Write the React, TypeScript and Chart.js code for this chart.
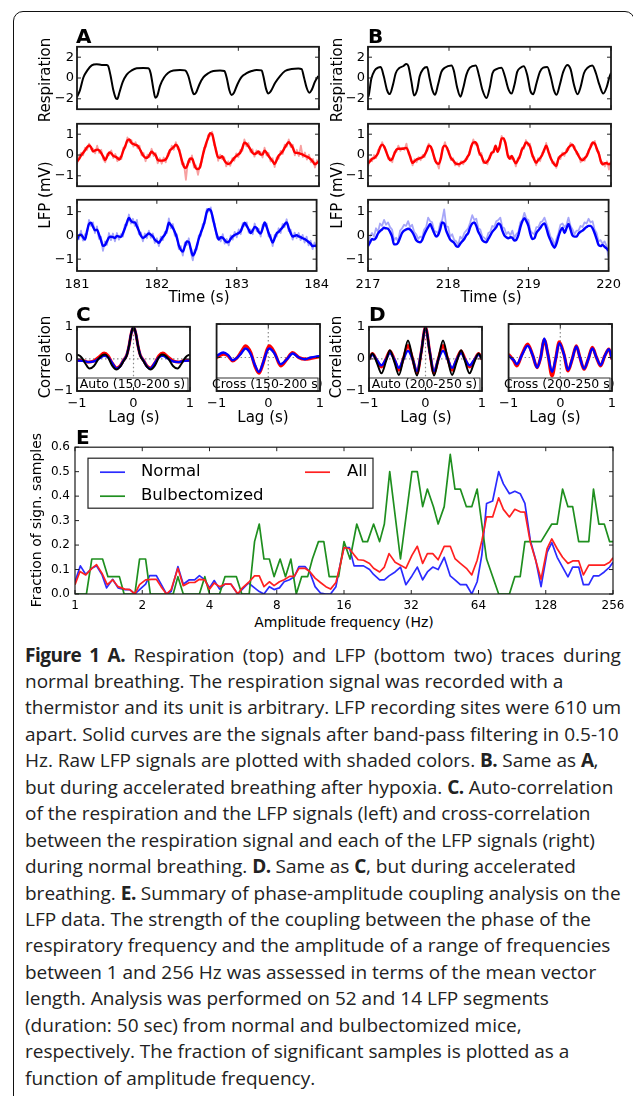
import React, { useEffect, useRef } from 'react';
import { Chart, registerables } from 'chart.js';

Chart.register(...registerables);

const FAMILY = '"DejaVu Sans", sans-serif';
Chart.defaults.font.family = FAMILY;

// ---------------- data ----------------
const timeTicksA = [181, 182, 183, 184];
const timeTicksB = [217, 218, 219, 220];
const respTicks = [-2, 0, 2];
const lfpTicks = [-1, 0, 1];
const lagTicks = [-1, 0, 1];
const eXTicks = [0, 1, 2, 3, 4, 5, 6, 7, 8]; // log2 of frequency
const eXTickLabels = ['1', '2', '4', '8', '16', '32', '64', '128', '256'];
const eYTicks = [0, 0.1, 0.2, 0.3, 0.4, 0.5, 0.6];
const sampleStep = 0.025; // s between LFP samples
const startA = 181;
const startB = 217;

// Panel A respiration [time s, value]
const respA: [number, number][] = [
  [181.0, -1.83], [181.037, -1.16], [181.079, 0.05], [181.128, 0.73], [181.182, 1.21], [181.244, 1.32], [181.306, 1.26], [181.368, 1.26],
  [181.388, 1.13], [181.417, 0.19], [181.45, -1.16], [181.483, -1.96], [181.5, -2.02], [181.525, -1.42], [181.566, -0.4], [181.616, 0.32],
  [181.678, 0.73], [181.74, 0.94], [181.822, 0.97], [181.884, 0.94], [181.913, 0.46], [181.946, -1.02], [181.971, -1.91], [181.996, -1.69],
  [182.029, -0.75], [182.079, 0.05], [182.132, 0.51], [182.194, 0.73], [182.277, 0.78], [182.339, 0.73], [182.38, 0.19], [182.421, -1.02],
  [182.45, -1.56], [182.475, -1.42], [182.517, -0.62], [182.566, 0.05], [182.628, 0.46], [182.69, 0.67], [182.773, 0.73], [182.826, 0.67],
  [182.855, 0.05], [182.888, -1.16], [182.917, -1.64], [182.946, -1.42], [182.988, -0.62], [183.041, 0.11], [183.103, 0.46], [183.165, 0.67],
  [183.227, 0.78], [183.289, 0.73], [183.31, 0.19], [183.343, -1.02], [183.372, -1.48], [183.401, -1.29], [183.455, -0.48], [183.517, 0.19],
  [183.579, 0.67], [183.661, 0.86], [183.744, 0.91], [183.785, 0.86], [183.814, 0.05], [183.847, -0.94], [183.88, -1.42], [183.909, -1.16],
  [183.95, -0.35], [183.992, 0.19],
];

// Panel A LFP site 1 (red), filtered and raw, mV
const lfp1A = [
  -0.31, -0.2, -0.03, 0.1, 0.23, 0.37, 0.46, 0.37, 0.17, 0.22,
  0.26, 0.22, 0.09, -0.08, -0.24, -0.06, 0.12, 0.08, -0.04, -0.08,
  -0.14, -0.22, -0.06, 0.22, 0.45, 0.7, 0.75, 0.58, 0.53, 0.49,
  0.45, 0.3, 0.12, -0.05, -0.13, -0.12, 0.02, 0.16, 0.08, -0.02,
  -0.23, -0.27, -0.27, -0.26, -0.21, -0.05, 0.21, 0.3, 0.39, 0.49,
  0.4, 0.1, -0.26, -0.56, -0.63, -0.42, -0.18, -0.17, -0.41, -0.64,
  -0.67, -0.59, -0.17, 0.22, 0.55, 0.81, 1.05, 1.0, 0.62, 0.18,
  -0.11, -0.13, -0.06, -0.25, -0.38, -0.43, -0.39, -0.27, -0.14, -0.05,
  0.03, 0.12, 0.34, 0.59, 0.55, 0.42, 0.27, 0.11, 0.05, 0.09,
  0.17, 0.02, 0.03, 0.21, 0.11, -0.05, -0.18, -0.3, -0.43, -0.25,
  -0.03, 0.06, 0.18, 0.35, 0.51, 0.62, 0.5, 0.35, 0.12, 0.1,
  0.09, 0.05, 0.01, -0.04, -0.08, -0.13, -0.21, -0.33, -0.45, -0.38,
  -0.3,
];
const lfp1ARaw = [
  -0.45, -0.05, 0.1, -0.02, 0.35, 0.25, 0.55, 0.28, 0.3, 0.08,
  0.45, 0.1, 0.25, -0.2, -0.35, 0.05, 0.0, 0.22, -0.15, 0.05,
  -0.3, -0.1, -0.2, 0.35, 0.35, 0.85, 0.62, 0.72, 0.4, 0.62,
  0.32, 0.45, -0.02, 0.1, -0.3, 0.02, -0.1, 0.3, -0.05, 0.1,
  -0.4, -0.15, -0.42, -0.12, -0.35, 0.08, 0.1, 0.45, 0.25, 0.62,
  0.28, 0.25, -0.45, -0.4, -1.2, -0.3, -0.35, -0.02, -0.6, -0.5,
  -0.95, -0.45, -0.3, 0.35, 0.4, 0.95, 0.92, 1.12, 0.48, 0.3,
  -0.28, 0.02, -0.2, -0.1, -0.55, -0.3, -0.52, -0.15, -0.28, 0.08,
  -0.1, 0.25, 0.2, 0.75, 0.42, 0.58, 0.15, 0.28, -0.08, 0.22,
  0.05, 0.15, -0.12, 0.35, -0.02, 0.1, -0.32, -0.15, -0.58, -0.12,
  -0.18, 0.2, 0.05, 0.5, 0.4, 0.75, 0.38, 0.5, -0.02, 0.25,
  -0.05, 0.45, -0.1, 0.12, -0.22, 0.02, -0.35, -0.18, -0.6, -0.25,
  -0.45,
];
// Panel A LFP site 2 (blue)
const lfp2A = [
  -0.19, 0.0, 0.03, -0.08, -0.18, 0.17, 0.48, 0.53, 0.37, 0.21,
  0.24, 0.04, -0.2, -0.44, -0.41, -0.25, -0.09, -0.06, -0.07, -0.11,
  -0.02, -0.05, -0.07, 0.09, 0.3, 0.55, 0.74, 0.62, 0.55, 0.55,
  0.38, 0.19, -0.01, -0.11, -0.06, 0.02, 0.08, 0.03, -0.05, -0.18,
  -0.25, -0.31, -0.2, -0.07, 0.03, 0.23, 0.53, 0.44, 0.32, 0.14,
  -0.09, -0.42, -0.61, -0.68, -0.46, -0.25, -0.28, -0.57, -0.85, -0.72,
  -0.45, -0.14, 0.11, 0.33, 0.62, 0.98, 1.1, 1.05, 0.75, 0.37,
  0.04, -0.18, -0.08, -0.1, -0.2, -0.29, -0.27, -0.14, -0.04, 0.02,
  0.06, 0.1, 0.18, 0.38, 0.53, 0.4, 0.25, 0.1, 0.21, 0.36,
  0.31, 0.14, 0.08, 0.3, 0.55, 0.35, 0.1, -0.12, -0.3, -0.12,
  0.09, 0.15, 0.25, 0.34, 0.47, 0.55, 0.32, 0.1, -0.05, -0.02,
  0.01, -0.04, -0.07, -0.12, -0.15, -0.21, -0.28, -0.35, -0.45, -0.44,
  -0.43,
];
const lfp2ARaw = [
  -0.05, -0.15, 0.2, -0.22, 0.05, 0.05, 0.65, 0.4, 0.55, 0.1,
  0.38, -0.15, -0.05, -0.65, -0.25, -0.4, 0.1, -0.2, 0.08, -0.25,
  0.1, -0.18, 0.05, -0.05, 0.45, 0.42, 0.88, 0.5, 0.7, 0.4,
  0.65, 0.05, 0.12, -0.25, 0.08, -0.12, 0.2, -0.1, 0.08, -0.32,
  -0.12, -0.45, -0.05, -0.2, 0.15, 0.1, 0.72, 0.3, 0.48, -0.02,
  0.05, -0.58, -0.45, -0.85, -0.3, -0.4, -0.12, -0.7, -1.05, -0.6,
  -0.6, 0.0, -0.02, 0.48, 0.5, 1.12, 1.0, 1.18, 0.6, 0.5,
  -0.1, -0.05, -0.25, 0.05, -0.35, -0.15, -0.42, 0.0, -0.18, 0.15,
  -0.08, 0.25, 0.05, 0.52, 0.4, 0.55, 0.12, 0.25, 0.05, 0.5,
  0.18, 0.28, -0.05, 0.45, 0.4, 0.5, -0.05, 0.02, -0.45, 0.02,
  -0.05, 0.3, 0.1, 0.48, 0.35, 0.68, 0.18, 0.25, -0.18, 0.12,
  -0.12, 0.1, -0.2, 0.02, -0.3, -0.05, -0.42, -0.22, -0.58, -0.3,
  -0.55,
];

// Panel B respiration
const respB: [number, number][] = [
  [217.0, -1.8], [217.008, -1.7], [217.041, -0.08], [217.082, 0.73], [217.124, 0.99], [217.157, 1.05], [217.194, 0.19], [217.235, -1.16],
  [217.268, -1.55], [217.309, -0.62], [217.342, 0.46], [217.383, 0.94], [217.433, 1.13], [217.474, 1.34], [217.499, 1.13], [217.536, -0.35],
  [217.569, -1.69], [217.606, -1.16], [217.639, 0.19], [217.68, 0.86], [217.729, 1.05], [217.762, -0.08], [217.795, -1.16], [217.828, -1.6],
  [217.865, -0.62], [217.906, 0.59], [217.948, 0.99], [218.03, 1.21], [218.059, 0.73], [218.1, -0.89], [218.141, -1.8], [218.174, -1.02],
  [218.215, 0.32], [218.257, 0.99], [218.331, 1.21], [218.372, 0.19], [218.413, -1.16], [218.463, -1.93], [218.504, -0.89], [218.537, 0.46],
  [218.586, 0.86], [218.648, 0.99], [218.689, 0.19], [218.731, -1.02], [218.772, -1.5], [218.809, -0.62], [218.842, 0.59], [218.883, 0.99],
  [218.924, 1.13], [218.965, 0.32], [219.007, -1.29], [219.04, -1.56], [219.081, -0.48], [219.122, 0.59], [219.163, 0.99], [219.213, 1.05],
  [219.254, 0.19], [219.295, -1.16], [219.328, -1.6], [219.369, -0.62], [219.41, 0.59], [219.46, 1.26], [219.501, 0.86], [219.542, -0.62],
  [219.587, -1.56], [219.624, -0.89], [219.666, 0.46], [219.711, 0.99], [219.769, 1.21], [219.814, 0.46], [219.855, -0.62], [219.905, -1.5],
  [219.946, -0.89], [219.979, 0.05], [220.0, 0.5],
];
const lfp1B = [
  -0.4, -0.3, -0.18, -0.15, -0.05, 0.1, 0.38, 0.5, 0.4, 0.15,
  -0.1, -0.25, -0.18, 0.05, 0.25, 0.3, 0.3, 0.3, 0.32, 0.34,
  0.15, -0.15, -0.38, -0.3, -0.22, -0.18, -0.14, -0.1, 0.02, 0.2,
  0.45, 0.4, 0.12, -0.2, -0.4, -0.42, -0.15, 0.35, 0.45, 0.35,
  0.08, -0.15, -0.25, -0.38, -0.44, -0.44, -0.38, -0.33, -0.28, -0.1,
  0.05, 0.42, 0.6, 0.62, 0.45, 0.1, -0.05, -0.3, -0.38, -0.3,
  -0.15, 0.1, 0.15, 0.45, 0.15, 0.4, 0.8, 0.8, 0.5, 0.0,
  -0.18, -0.05, -0.25, -0.4, -0.25, -0.05, 0.25, 0.4, 0.6, 0.55,
  0.4, 0.05, -0.2, -0.38, -0.25, -0.15, 0.0, 0.25, 0.45, 0.2,
  -0.1, -0.3, -0.45, -0.52, -0.2, -0.05, 0.02, 0.08, 0.15, 0.35,
  0.45, 0.5, 0.3, 0.15, -0.05, -0.2, -0.25, -0.15, -0.05, 0.2,
  0.4, 0.6, 0.55, 0.3, 0.05, -0.3, -0.45, -0.4, -0.4, -0.45,
  -0.38,
];
const lfp1BRaw = [
  -0.55, -0.2, -0.3, 0.0, -0.15, 0.25, 0.3, 0.62, 0.35, 0.25,
  -0.2, -0.15, -0.35, 0.15, 0.15, 0.45, 0.2, 0.35, 0.25, 0.55,
  0.05, -0.05, -0.5, -0.2, -0.35, -0.1, -0.25, 0.0, -0.1, 0.3,
  0.55, 0.35, 0.25, -0.3, -0.35, -0.65, -0.05, 0.3, 0.62, 0.25,
  0.2, -0.25, -0.15, -0.5, -0.35, -0.55, -0.3, -0.45, -0.2, -0.2,
  0.15, 0.35, 0.75, 0.5, 0.55, 0.0, 0.1, -0.4, -0.25, -0.45,
  -0.05, 0.0, 0.25, 0.35, 0.3, 0.3, 0.92, 0.7, 0.62, -0.1,
  -0.05, -0.2, -0.15, -0.55, -0.15, -0.15, 0.35, 0.3, 0.72, 0.45,
  0.55, -0.08, -0.1, -0.5, -0.15, -0.3, 0.1, 0.15, 0.58, 0.1,
  0.02, -0.4, -0.35, -0.62, -0.1, -0.2, 0.12, -0.05, 0.28, 0.25,
  0.58, 0.4, 0.42, 0.05, 0.05, -0.35, -0.15, -0.28, 0.05, 0.1,
  0.52, 0.5, 0.68, 0.2, 0.15, -0.4, -0.35, -0.55, -0.3, -0.7,
  -0.3,
];
const lfp2B = [
  -0.45, -0.3, -0.15, -0.18, -0.1, 0.08, 0.18, 0.25, 0.32, 0.3,
  0.28, 0.15, -0.05, -0.38, -0.38, -0.3, -0.1, 0.1, 0.2, 0.25,
  0.28, 0.25, 0.15, 0.0, -0.2, -0.27, -0.29, -0.2, 0.02, 0.2,
  0.35, 0.48, 0.3, 0.1, -0.05, 0.02, 0.25, 0.55, 0.5, 0.2,
  0.0, -0.18, -0.25, -0.32, -0.45, -0.48, -0.35, -0.25, -0.15, 0.0,
  0.1, 0.35, 0.5, 0.55, 0.4, 0.15, 0.0, -0.2, -0.27, -0.29,
  -0.15, 0.0, 0.15, 0.25, 0.35, 0.5, 0.45, 0.2, 0.0, -0.08,
  -0.12, -0.08, -0.1, -0.22, -0.18, 0.01, 0.35, 0.6, 0.72, 0.6,
  0.4, 0.05, -0.15, -0.12, 0.1, 0.22, 0.32, 0.45, 0.5, 0.3,
  0.0, -0.2, -0.4, -0.52, -0.35, -0.05, 0.2, 0.32, 0.1, 0.3,
  0.48, 0.25, 0.0, -0.05, -0.05, 0.08, 0.15, 0.2, 0.28, 0.35,
  0.4, 0.4, 0.3, 0.1, -0.15, -0.4, -0.45, -0.4, -0.48, -0.55,
  -0.65,
];
const lfp2BRaw = [
  -0.3, -0.05, 0.1, -0.05, 0.3, 0.15, 0.5, 0.4, 0.65, 0.45,
  0.55, 0.35, 0.25, -0.2, -0.1, -0.25, 0.2, 0.3, 0.45, 0.4,
  0.6, 0.35, 0.45, 0.15, 0.05, -0.15, -0.05, -0.1, 0.25, 0.35,
  0.75, 0.6, 0.55, 0.2, 0.15, 0.1, 0.5, 0.65, 1.1, 0.4,
  0.35, -0.05, 0.05, -0.2, -0.25, -0.4, -0.05, -0.15, 0.1, 0.2,
  0.3, 0.55, 0.85, 0.65, 0.7, 0.3, 0.25, -0.05, -0.1, -0.2,
  0.1, 0.15, 0.4, 0.35, 0.6, 0.65, 0.75, 0.35, 0.3, 0.05,
  0.15, 0.0, 0.2, -0.1, 0.05, 0.15, 0.55, 0.65, 0.95, 0.7,
  0.65, 0.2, 0.1, 0.05, 0.35, 0.35, 0.55, 0.6, 0.75, 0.5,
  0.25, -0.05, -0.15, -0.4, -0.15, 0.1, 0.45, 0.5, 0.35, 0.45,
  0.75, 0.4, 0.25, 0.05, 0.2, 0.2, 0.4, 0.35, 0.55, 0.5,
  0.7, 0.55, 0.6, 0.25, 0.1, -0.25, -0.2, -0.35, -0.25, -0.45,
  -0.95,
];

// Panel C correlations [lag s, r]
const cAutoResp: [number, number][] = [
  [-1, 0.13], [-0.95, 0.1], [-0.9, 0.0], [-0.85, -0.15], [-0.78, -0.3], [-0.7, -0.22], [-0.62, 0.0], [-0.55, 0.12], [-0.5, 0.14],
  [-0.45, 0.05], [-0.38, -0.2], [-0.3, -0.33], [-0.24, -0.25], [-0.18, -0.08], [-0.12, 0.1], [-0.08, 0.4], [-0.04, 0.8], [0, 1],
  [0.04, 0.8], [0.08, 0.4], [0.12, 0.1], [0.18, -0.08], [0.24, -0.25], [0.3, -0.33], [0.38, -0.2], [0.45, 0.05], [0.5, 0.14],
  [0.55, 0.12], [0.62, 0.0], [0.7, -0.22], [0.78, -0.3], [0.85, -0.15], [0.9, 0.0], [0.95, 0.1], [1, 0.13],
];
const cAutoLfp1: [number, number][] = [
  [-1, -0.05], [-0.9, -0.05], [-0.8, -0.1], [-0.7, -0.06], [-0.6, 0.08], [-0.52, 0.18], [-0.45, 0.1], [-0.38, -0.12], [-0.3, -0.28],
  [-0.24, -0.22], [-0.18, -0.05], [-0.12, 0.12], [-0.08, 0.4], [-0.04, 0.8], [0, 1], [0.04, 0.8], [0.08, 0.4], [0.12, 0.12],
  [0.18, -0.05], [0.24, -0.22], [0.3, -0.28], [0.38, -0.12], [0.45, 0.1], [0.52, 0.18], [0.6, 0.08], [0.7, -0.06], [0.8, -0.1],
  [0.9, -0.05], [1, -0.05],
];
const cAutoLfp2: [number, number][] = [
  [-1, -0.05], [-0.9, -0.06], [-0.8, -0.1], [-0.7, -0.08], [-0.6, 0.02], [-0.52, 0.1], [-0.45, 0.05], [-0.38, -0.12], [-0.3, -0.3],
  [-0.24, -0.24], [-0.18, -0.06], [-0.12, 0.12], [-0.08, 0.4], [-0.04, 0.8], [0, 1], [0.04, 0.8], [0.08, 0.4], [0.12, 0.12],
  [0.18, -0.06], [0.24, -0.24], [0.3, -0.3], [0.38, -0.12], [0.45, 0.05], [0.52, 0.1], [0.6, 0.02], [0.7, -0.08], [0.8, -0.1],
  [0.9, -0.06], [1, -0.05],
];
const cCrossLfp1: [number, number][] = [
  [-1, 0.0], [-0.87, 0.1], [-0.78, 0.05], [-0.69, -0.1], [-0.61, -0.02], [-0.52, 0.18], [-0.44, 0.35], [-0.34, 0.15], [-0.26, -0.25],
  [-0.18, -0.47], [-0.11, -0.22], [-0.02, 0.25], [0.02, 0.35], [0.12, 0.15], [0.24, -0.25], [0.36, -0.05], [0.47, 0.15], [0.59, 0.0],
  [0.71, -0.05], [0.82, -0.03], [1, 0.03],
];
const cCrossLfp2: [number, number][] = [
  [-1, 0.05], [-0.87, 0.15], [-0.78, 0.08], [-0.69, -0.08], [-0.61, -0.02], [-0.52, 0.13], [-0.44, 0.27], [-0.34, 0.1], [-0.26, -0.22],
  [-0.18, -0.43], [-0.11, -0.2], [-0.02, 0.2], [0.02, 0.27], [0.12, 0.12], [0.24, -0.2], [0.36, -0.05], [0.47, 0.12], [0.59, 0.0],
  [0.71, -0.05], [0.82, 0.0], [1, 0.05],
];

// Panel D correlations
const dAutoResp: [number, number][] = [
  [-1, -0.02], [-0.94, 0.17], [-0.86, -0.12], [-0.78, -0.45], [-0.7, -0.08], [-0.63, 0.27], [-0.55, -0.1], [-0.47, -0.5], [-0.39, 0.02],
  [-0.31, 0.57], [-0.23, 0.02], [-0.15, -0.52], [-0.075, 0.2], [0, 1], [0.075, 0.2], [0.15, -0.52], [0.23, 0.02], [0.31, 0.57],
  [0.39, 0.02], [0.47, -0.5], [0.55, -0.1], [0.63, 0.27], [0.7, -0.08], [0.78, -0.45], [0.86, -0.12], [0.94, 0.17], [1, -0.02],
];
const dAutoLfp1: [number, number][] = [
  [-1, -0.02], [-0.94, 0.17], [-0.86, -0.05], [-0.78, -0.25], [-0.7, 0.0], [-0.63, 0.25], [-0.55, -0.02], [-0.47, -0.35], [-0.39, 0.02],
  [-0.31, 0.42], [-0.23, 0.02], [-0.15, -0.45], [-0.075, 0.22], [0, 1], [0.075, 0.22], [0.15, -0.45], [0.23, 0.02], [0.31, 0.42],
  [0.39, 0.02], [0.47, -0.35], [0.55, -0.02], [0.63, 0.25], [0.7, 0.0], [0.78, -0.25], [0.86, -0.05], [0.94, 0.17], [1, -0.02],
];
const dAutoLfp2: [number, number][] = [
  [-1, 0.0], [-0.94, 0.13], [-0.86, -0.04], [-0.78, -0.2], [-0.7, -0.02], [-0.63, 0.18], [-0.55, -0.02], [-0.47, -0.28], [-0.39, 0.0],
  [-0.31, 0.25], [-0.23, 0.0], [-0.15, -0.38], [-0.075, 0.22], [0, 1], [0.075, 0.22], [0.15, -0.38], [0.23, 0.0], [0.31, 0.25],
  [0.39, 0.0], [0.47, -0.28], [0.55, -0.02], [0.63, 0.18], [0.7, -0.02], [0.78, -0.2], [0.86, -0.04], [0.94, 0.13], [1, 0.0],
];
const dCrossLfp1: [number, number][] = [
  [-1, 0.1], [-0.9, -0.1], [-0.84, -0.25], [-0.74, 0.1], [-0.63, 0.4], [-0.53, 0.05], [-0.45, -0.3], [-0.38, 0.0], [-0.31, 0.53],
  [-0.24, 0.1], [-0.16, -0.55], [-0.09, -0.05], [-0.02, 0.47], [0.07, 0.1], [0.15, -0.4], [0.23, -0.05], [0.31, 0.35], [0.38, 0.0],
  [0.46, -0.35], [0.54, -0.05], [0.62, 0.3], [0.7, 0.0], [0.78, -0.25], [0.86, 0.05], [0.94, 0.25], [1, -0.05],
];
const dCrossLfp2: [number, number][] = [
  [-1, 0.05], [-0.9, -0.08], [-0.84, -0.2], [-0.74, 0.08], [-0.63, 0.35], [-0.53, 0.05], [-0.45, -0.3], [-0.38, 0.0], [-0.31, 0.57],
  [-0.24, 0.1], [-0.16, -0.43], [-0.09, -0.05], [-0.02, 0.43], [0.07, 0.1], [0.15, -0.37], [0.23, -0.05], [0.31, 0.33], [0.38, 0.0],
  [0.46, -0.33], [0.54, -0.05], [0.62, 0.27], [0.7, 0.0], [0.78, -0.23], [0.86, 0.05], [0.94, 0.25], [1, -0.05],
];

// Panel E [log2 frequency, fraction of significant samples]
const eNormal: [number, number][] = [
  [0, 0.05], [0.08, 0.115], [0.16, 0.08], [0.25, 0.105], [0.32, 0.115], [0.4, 0.08], [0.47, 0.025], [0.56, 0.06], [0.64, 0.025],
  [0.74, 0.018], [0.815, 0.018], [0.89, 0], [0.96, 0.018], [1.05, 0.04], [1.11, 0.075], [1.21, 0.075], [1.28, 0.04], [1.36, 0],
  [1.43, 0.01], [1.53, 0.112], [1.61, 0.04], [1.7, 0.058], [1.78, 0.058], [1.85, 0.075], [1.93, 0.058], [2.0, 0.025], [2.07, 0.055],
  [2.15, 0.02], [2.23, 0.04], [2.32, 0.04], [2.42, 0], [2.49, 0.02], [2.58, 0.045], [2.67, 0.025], [2.74, 0.01], [2.81, 0],
  [2.89, 0.03], [2.96, 0.018], [3.04, 0.025], [3.11, 0.05], [3.19, 0.058], [3.26, 0.07], [3.33, 0.112], [3.42, 0.112], [3.49, 0.09],
  [3.57, 0.03], [3.65, 0.004], [3.73, 0], [3.8, 0], [3.88, 0.03], [3.95, 0.13], [4.0, 0.19], [4.08, 0.19], [4.15, 0.115],
  [4.21, 0.115], [4.29, 0.115], [4.38, 0.1], [4.44, 0.08], [4.53, 0.058], [4.6, 0.058], [4.67, 0.074], [4.76, 0.09], [4.84, 0.11],
  [4.92, 0.038], [5.01, 0.074], [5.09, 0.11], [5.17, 0.058], [5.24, 0.09], [5.32, 0.11], [5.4, 0.1], [5.49, 0.15], [5.58, 0.074],
  [5.65, 0.058], [5.73, 0.038], [5.82, 0.038], [5.9, 0], [5.98, 0.05], [6.05, 0.16], [6.12, 0.37], [6.21, 0.38], [6.3, 0.5],
  [6.37, 0.45], [6.46, 0.41], [6.54, 0.42], [6.62, 0.41], [6.69, 0.37], [6.77, 0.22], [6.85, 0.14], [6.93, 0.03], [7.02, 0.17],
  [7.09, 0.21], [7.17, 0.15], [7.25, 0.11], [7.33, 0.07], [7.4, 0.11], [7.49, 0.11], [7.56, 0.038], [7.64, 0.038], [7.71, 0.074],
  [7.79, 0.074], [7.87, 0.09], [7.95, 0.11], [8.0, 0.13],
];
const eAll: [number, number][] = [
  [0, 0.038], [0.074, 0.092], [0.16, 0.078], [0.25, 0.105], [0.32, 0.12], [0.4, 0.085], [0.48, 0.038], [0.56, 0.058], [0.64, 0.03],
  [0.74, 0.02], [0.815, 0.018], [0.89, 0], [0.96, 0.038], [1.05, 0.058], [1.14, 0.06], [1.21, 0.06], [1.28, 0.03], [1.36, 0],
  [1.43, 0.018], [1.53, 0.105], [1.61, 0.034], [1.7, 0.047], [1.78, 0.047], [1.85, 0.06], [1.93, 0.058], [2.0, 0.02], [2.07, 0.045],
  [2.15, 0.03], [2.23, 0.04], [2.32, 0.04], [2.42, 0], [2.49, 0.025], [2.58, 0.047], [2.67, 0.074], [2.74, 0.074], [2.81, 0.03],
  [2.89, 0.05], [2.96, 0.034], [3.04, 0.05], [3.11, 0.058], [3.19, 0.072], [3.26, 0.072], [3.33, 0.105], [3.42, 0.105], [3.49, 0.092],
  [3.57, 0.065], [3.65, 0.047], [3.73, 0.03], [3.8, 0.02], [3.88, 0.047], [3.95, 0.125], [4.0, 0.19], [4.08, 0.185], [4.15, 0.16],
  [4.21, 0.14], [4.29, 0.138], [4.38, 0.125], [4.44, 0.105], [4.53, 0.09], [4.6, 0.11], [4.67, 0.165], [4.76, 0.13], [4.84, 0.118],
  [4.92, 0.105], [5.01, 0.158], [5.09, 0.195], [5.17, 0.125], [5.24, 0.165], [5.32, 0.165], [5.4, 0.14], [5.49, 0.195], [5.58, 0.195],
  [5.65, 0.145], [5.73, 0.125], [5.82, 0.105], [5.9, 0.078], [5.98, 0.138], [6.05, 0.218], [6.12, 0.315], [6.21, 0.315], [6.3, 0.393],
  [6.37, 0.346], [6.46, 0.315], [6.54, 0.346], [6.62, 0.336], [6.69, 0.335], [6.77, 0.212], [6.85, 0.138], [6.93, 0.06], [7.02, 0.185],
  [7.09, 0.225], [7.17, 0.185], [7.25, 0.15], [7.33, 0.125], [7.4, 0.135], [7.49, 0.135], [7.56, 0.078], [7.64, 0.118], [7.71, 0.118],
  [7.79, 0.118], [7.87, 0.118], [7.95, 0.13], [8.0, 0.148],
];
const eBulb: [number, number][] = [
  [0, 0], [0.17, 0], [0.25, 0.143], [0.32, 0.143], [0.41, 0.143], [0.49, 0.071], [0.57, 0.071], [0.66, 0.071], [0.73, 0],
  [0.89, 0], [0.96, 0.143], [1.05, 0.143], [1.12, 0], [1.46, 0], [1.53, 0.071], [1.61, 0], [1.85, 0], [1.93, 0.071],
  [2.0, 0], [2.15, 0], [2.23, 0.071], [2.32, 0.071], [2.4, 0.071], [2.48, 0], [2.59, 0], [2.67, 0.214], [2.74, 0.286],
  [2.81, 0.143], [2.89, 0.143], [2.96, 0.071], [3.05, 0.143], [3.13, 0.071], [3.21, 0.143], [3.29, 0], [3.37, 0.071], [3.46, 0.071],
  [3.53, 0.143], [3.62, 0.214], [3.7, 0.214], [3.78, 0.071], [3.87, 0.071], [3.92, 0.071], [4.0, 0.214], [4.09, 0.143], [4.19, 0.286],
  [4.28, 0.214], [4.35, 0.214], [4.44, 0.286], [4.53, 0.214], [4.6, 0.286], [4.68, 0.5], [4.84, 0.143], [5.01, 0.5], [5.09, 0.5],
  [5.17, 0.357], [5.24, 0.429], [5.33, 0.357], [5.4, 0.286], [5.49, 0.357], [5.58, 0.571], [5.65, 0.429], [5.73, 0.429], [5.82, 0.357],
  [5.9, 0.357], [5.98, 0.429], [6.12, 0.143], [6.3, 0], [6.46, 0], [6.54, 0.071], [6.62, 0.071], [6.69, 0.214], [6.93, 0.214],
  [7.09, 0.286], [7.17, 0.286], [7.25, 0.429], [7.33, 0.357], [7.4, 0.357], [7.49, 0.214], [7.64, 0.214], [7.71, 0.429], [7.79, 0.286],
  [7.87, 0.286], [7.95, 0.214], [8.0, 0.214],
];

const captionLines = [
  '**Figure 1 A.** Respiration (top) and LFP (bottom two) traces during',
  'normal breathing. The respiration signal was recorded with a',
  'thermistor and its unit is arbitrary. LFP recording sites were 610 um',
  'apart. Solid curves are the signals after band-pass filtering in 0.5-10',
  'Hz. Raw LFP signals are plotted with shaded colors. **B.** Same as **A**,',
  'but during accelerated breathing after hypoxia. **C.** Auto-correlation',
  'of the respiration and the LFP signals (left) and cross-correlation',
  'between the respiration signal and each of the LFP signals (right)',
  'during normal breathing. **D.** Same as **C**, but during accelerated',
  'breathing. **E.** Summary of phase-amplitude coupling analysis on the',
  'LFP data. The strength of the coupling between the phase of the',
  'respiratory frequency and the amplitude of a range of frequencies',
  'between 1 and 256 Hz was assessed in terms of the mean vector',
  'length. Analysis was performed on 52 and 14 LFP segments',
  '(duration: 50 sec) from normal and bulbectomized mice,',
  'respectively. The fraction of significant samples is plotted as a',
  'function of amplitude frequency.',
];

// ---------------- styling ----------------
const RED = '#ff0000';
const BLUE = '#0000ff';
const RED_RAW = '#f7a0a0';
const BLUE_RAW = '#a6a6f8';
const E_BLUE = '#2b2bff';
const E_RED = '#ff2020';
const E_GREEN = '#1f8f1f';
const eLegend = [
  { label: 'Normal', color: E_BLUE },
  { label: 'Bulbectomized', color: E_GREEN },
  { label: 'All', color: E_RED },
];

type Pt = { x: number; y: number };
const fromPairs = (p: [number, number][]): Pt[] => p.map(([x, y]) => ({ x, y }));
const fromGrid = (t0: number, vals: number[]): Pt[] => vals.map((y, i) => ({ x: t0 + i * sampleStep, y }));
const fmtSigned = (v: number) => (v < 0 ? '\u2212' + Math.abs(v) : String(v));

interface Series { data: Pt[]; color: string; width: number; smooth?: boolean }
interface Spec {
  x: number; y: number; w: number; h: number;
  padL: number; padT: number; padR: number; padB: number;
  xMin: number; xMax: number; yMin: number; yMax: number;
  xTicks: number[]; yTicks: number[];
  xFmt?: (v: number) => string;
  yFmt?: (v: number) => string;
  xPad?: number; yPad?: number; font?: number; frame?: number;
  series: Series[];
  zero?: boolean; box?: string; legend?: boolean;
}

function mplPlugin(s: Spec) {
  return {
    id: 'mpl',
    beforeDatasetsDraw(chart: any) {
      if (!s.zero) return;
      const { ctx, chartArea: ca, scales } = chart;
      const px = scales.x.getPixelForValue(0);
      const py = scales.y.getPixelForValue(0);
      ctx.save();
      ctx.strokeStyle = '#8a8a8a';
      ctx.lineWidth = 1.2;
      ctx.setLineDash([1.5, 2.5]);
      ctx.beginPath();
      ctx.moveTo(ca.left, py); ctx.lineTo(ca.right, py);
      ctx.moveTo(px, ca.top); ctx.lineTo(px, ca.bottom);
      ctx.stroke();
      ctx.restore();
    },
    afterDatasetsDraw(chart: any) {
      const { ctx, chartArea: ca, scales } = chart;
      ctx.save();
      if (s.box) {
        ctx.font = `12.5px ${FAMILY}`;
        const tw = ctx.measureText(s.box).width;
        const cx = (ca.left + ca.right) / 2 - 1;
        const bw = Math.min(tw + 6, ca.right - ca.left - 2);
        const bh = 13;
        ctx.fillStyle = '#fff';
        ctx.fillRect(cx - bw / 2, ca.bottom - bh, bw, bh);
        ctx.strokeStyle = '#333';
        ctx.lineWidth = 1;
        ctx.strokeRect(cx - bw / 2, ca.bottom - bh, bw, bh);
        ctx.fillStyle = '#000';
        ctx.textAlign = 'center';
        ctx.textBaseline = 'middle';
        ctx.fillText(s.box, cx, ca.bottom - 6);
      }
      if (s.legend) {
        const bx = ca.left + 13, by = ca.top + 11, bw = 285, bh = 50;
        ctx.fillStyle = '#fff';
        ctx.fillRect(bx, by, bw, bh);
        ctx.strokeStyle = '#222';
        ctx.lineWidth = 1.2;
        ctx.strokeRect(bx, by, bw, bh);
        ctx.font = `16.5px ${FAMILY}`;
        ctx.textBaseline = 'middle';
        ctx.textAlign = 'left';
        eLegend.forEach((item, i) => {
          const col = Math.floor(i / 2), row = i % 2;
          const hx = bx + 12 + col * 205;
          const hy = by + 14 + row * 24;
          ctx.strokeStyle = item.color;
          ctx.lineWidth = 1.7;
          ctx.beginPath();
          ctx.moveTo(hx, hy); ctx.lineTo(hx + 25, hy);
          ctx.stroke();
          ctx.fillStyle = '#000';
          ctx.fillText(item.label, hx + (col === 0 ? 41 : 42), hy);
        });
      }
      const L = 4;
      ctx.strokeStyle = '#222';
      ctx.lineWidth = 1;
      ctx.beginPath();
      s.xTicks.forEach((v) => {
        const p = scales.x.getPixelForValue(v);
        ctx.moveTo(p, ca.bottom); ctx.lineTo(p, ca.bottom - L);
        ctx.moveTo(p, ca.top); ctx.lineTo(p, ca.top + L);
      });
      s.yTicks.forEach((v) => {
        const p = scales.y.getPixelForValue(v);
        ctx.moveTo(ca.left, p); ctx.lineTo(ca.left + L, p);
        ctx.moveTo(ca.right, p); ctx.lineTo(ca.right - L, p);
      });
      ctx.stroke();
      ctx.lineWidth = s.frame ?? 1.8;
      ctx.strokeStyle = '#1a1a1a';
      ctx.strokeRect(ca.left, ca.top, ca.right - ca.left, ca.bottom - ca.top);
      ctx.restore();
    },
  };
}

function buildConfig(s: Spec): any {
  const font = { family: FAMILY, size: s.font ?? 13 };
  return {
    type: 'line',
    data: {
      datasets: s.series.map((d) => ({
        data: d.data,
        borderColor: d.color,
        borderWidth: d.width,
        pointRadius: 0,
        pointHoverRadius: 0,
        fill: false,
        tension: 0,
        cubicInterpolationMode: d.smooth ? 'monotone' : 'default',
        borderJoinStyle: 'round',
      })),
    },
    options: {
      responsive: false,
      animation: false,
      events: [],
      layout: { autoPadding: false, padding: { left: 0, right: s.padR, top: s.padT, bottom: s.xFmt ? 0 : s.padB } },
      plugins: { legend: { display: false }, tooltip: { enabled: false } },
      scales: {
        x: {
          type: 'linear', min: s.xMin, max: s.xMax,
          grid: { display: false, drawTicks: false }, border: { display: false },
          ticks: {
            display: !!s.xFmt, autoSkip: false, maxRotation: 0, minRotation: 0, padding: s.xPad ?? 6,
            color: '#000', font, callback: (v: any) => (s.xFmt ? s.xFmt(Number(v)) : ''),
          },
          afterBuildTicks: (sc: any) => { sc.ticks = s.xTicks.map((v) => ({ value: v })); },
          afterFit: (sc: any) => { sc.height = s.xFmt ? s.padB : 0; },
        },
        y: {
          type: 'linear', min: s.yMin, max: s.yMax,
          grid: { display: false, drawTicks: false }, border: { display: false },
          ticks: {
            display: !!s.yFmt, autoSkip: false, padding: s.yPad ?? 3,
            color: '#000', font, callback: (v: any) => (s.yFmt ? s.yFmt(Number(v)) : ''),
          },
          afterBuildTicks: (sc: any) => { sc.ticks = s.yTicks.map((v) => ({ value: v })); },
          afterFit: (sc: any) => { sc.width = s.padL; },
        },
      },
    },
    plugins: [mplPlugin(s)],
  };
}

function Plot({ spec }: { spec: Spec }) {
  const ref = useRef<HTMLCanvasElement>(null);
  useEffect(() => {
    const chart = new Chart(ref.current as HTMLCanvasElement, buildConfig(spec));
    return () => chart.destroy();
  }, [spec]);
  const w = spec.padL + spec.w + spec.padR;
  const h = spec.padT + spec.h + spec.padB;
  return (
    <canvas
      ref={ref}
      width={w}
      height={h}
      style={{ position: 'absolute', left: spec.x - spec.padL, top: spec.y - spec.padT, width: w, height: h }}
    />
  );
}

function Label({ x, y, text, size, bold, rot, left }: { x: number; y: number; text: string; size: number; bold?: boolean; rot?: number; left?: boolean }) {
  return (
    <div
      style={{
        position: 'absolute', left: x, top: y,
        transform: left ? 'translate(0,-50%)' : `translate(-50%,-50%) rotate(${rot ?? 0}deg)`,
        fontFamily: FAMILY, fontSize: size, fontWeight: bold ? 'bold' : 'normal',
        whiteSpace: 'nowrap', lineHeight: 1, color: '#000',
      }}
    >
      {text}
    </div>
  );
}

function CaptionLine({ line, wide }: { line: string; wide?: boolean }) {
  const parts = line.split('**');
  return (
    <div style={{ whiteSpace: 'nowrap', wordSpacing: wide ? '3.5px' : undefined }}>
      {parts.map((p, i) =>
        i % 2 === 1 ? (
          <b key={i} style={{ fontWeight: 700, letterSpacing: '-0.5px' }}>{p}</b>
        ) : (
          <span key={i}>{p}</span>
        ),
      )}
    </div>
  );
}

// --------------- layout specs ---------------
const specs: Spec[] = [];
const timeFmt = (v: number) => String(v);
function timePanel(x0: number, w: number, start: number, ticks: number[], resp: [number, number][], l1: number[], l1r: number[], l2: number[], l2r: number[]) {
  const base = { x: x0, w, h: 74, padL: 40, padT: 8, padR: 16, xMin: start, xMax: start + 3, xTicks: ticks, yPad: 3 };
  specs.push({
    ...base, y: 44, padB: 2, yMin: -3, yMax: 3, yTicks: respTicks, yFmt: fmtSigned,
    series: [{ data: fromPairs(resp), color: '#000', width: 2, smooth: true }],
  });
  specs.push({
    ...base, y: 121, padB: 2, yMin: -1.5, yMax: 1.5, yTicks: lfpTicks, yFmt: fmtSigned,
    series: [
      { data: fromGrid(start, l1), color: RED, width: 2.4, smooth: true },
      { data: fromGrid(start, l1r), color: RED_RAW, width: 1.8 },
    ],
  });
  specs.push({
    ...base, y: 197, padB: 26, yMin: -1.5, yMax: 1.5, yTicks: lfpTicks, yFmt: fmtSigned, xFmt: timeFmt, xPad: 6,
    series: [
      { data: fromGrid(start, l2), color: BLUE, width: 2.4, smooth: true },
      { data: fromGrid(start, l2r), color: BLUE_RAW, width: 1.8 },
    ],
  });
}
timePanel(77, 242, startA, timeTicksA, respA, lfp1A, lfp1ARaw, lfp2A, lfp2ARaw);
timePanel(368, 243, startB, timeTicksB, respB, lfp1B, lfp1BRaw, lfp2B, lfp2BRaw);

function corrPanel(x0: number, w: number, withY: boolean, box: string, series: Series[]) {
  specs.push({
    x: x0, y: 324, w, h: 67, padL: withY ? 30 : 4, padT: 9, padR: 10, padB: 22,
    xMin: -1, xMax: 1, yMin: -1, yMax: 1, xTicks: lagTicks, yTicks: lagTicks,
    xFmt: fmtSigned, yFmt: withY ? fmtSigned : undefined, xPad: 5, yPad: 4,
    zero: true, box, series,
  });
}
corrPanel(77, 113, true, 'Auto (150-200 s)', [
  { data: fromPairs(cAutoResp), color: '#000', width: 2, smooth: true },
  { data: fromPairs(cAutoLfp2), color: BLUE, width: 2.4, smooth: true },
  { data: fromPairs(cAutoLfp1), color: RED, width: 3, smooth: true },
]);
corrPanel(206, 114, false, 'Cross (150-200 s)', [
  { data: fromPairs(cCrossLfp2), color: BLUE, width: 2.4, smooth: true },
  { data: fromPairs(cCrossLfp1), color: RED, width: 3.2, smooth: true },
]);
corrPanel(369, 113, true, 'Auto (200-250 s)', [
  { data: fromPairs(dAutoResp), color: '#000', width: 2, smooth: true },
  { data: fromPairs(dAutoLfp2), color: BLUE, width: 2.4, smooth: true },
  { data: fromPairs(dAutoLfp1), color: RED, width: 3, smooth: true },
]);
corrPanel(498, 114, false, 'Cross (200-250 s)', [
  { data: fromPairs(dCrossLfp2), color: BLUE, width: 2.4, smooth: true },
  { data: fromPairs(dCrossLfp1), color: RED, width: 3.2, smooth: true },
]);

specs.push({
  x: 75, y: 444, w: 538, h: 150, padL: 45, padT: 9, padR: 18, padB: 20,
  xMin: 0, xMax: 8, yMin: 0, yMax: 0.6, xTicks: eXTicks, yTicks: eYTicks,
  xFmt: (v) => eXTickLabels[eXTicks.indexOf(v)] ?? '', yFmt: (v) => v.toFixed(1),
  xPad: 4.5, yPad: 5, font: 12, frame: 1.2, legend: true,
  series: [
    { data: fromPairs(eAll), color: E_RED, width: 1.7 },
    { data: fromPairs(eBulb), color: E_GREEN, width: 1.7 },
    { data: fromPairs(eNormal), color: E_BLUE, width: 1.7 },
  ],
});

export default function App() {
  return (
    <div style={{ position: 'fixed', left: 0, top: 0, width: 633, height: 1096, overflow: 'hidden', background: '#fff' }}>
      <div
        style={{
          position: 'absolute', left: 12.5, top: 11, width: 622, height: 1200, boxSizing: 'border-box',
          border: '1.5px solid #111', borderRadius: 10,
        }}
      />
      {specs.map((s, i) => (
        <Plot key={i} spec={s} />
      ))}
      <Label x={76} y={36} text="A" size={20} bold left />
      <Label x={368} y={36} text="B" size={20} bold left />
      <Label x={76} y={314} text="C" size={20} bold left />
      <Label x={369} y={314} text="D" size={20} bold left />
      <Label x={76} y={437} text="E" size={20} bold left />
      <Label x={45} y={80} text="Respiration" size={15} rot={-90} />
      <Label x={45} y={195} text="LFP (mV)" size={15} rot={-90} />
      <Label x={337} y={80} text="Respiration" size={15} rot={-90} />
      <Label x={337} y={195} text="LFP (mV)" size={15} rot={-90} />
      <Label x={199} y={297} text="Time (s)" size={15} />
      <Label x={491} y={297} text="Time (s)" size={15} />
      <Label x={45} y={357} text="Correlation" size={15} rot={-90} />
      <Label x={336} y={357} text="Correlation" size={15} rot={-90} />
      <Label x={134} y={417} text="Lag (s)" size={15} />
      <Label x={263} y={417} text="Lag (s)" size={15} />
      <Label x={426} y={417} text="Lag (s)" size={15} />
      <Label x={555} y={417} text="Lag (s)" size={15} />
      <Label x={36} y={520} text="Fraction of sign. samples" size={14} rot={-90} />
      <Label x={344} y={622} text="Amplitude frequency (Hz)" size={14} />
      <div
        style={{
          position: 'absolute', left: 25, top: 641.5, fontFamily: '"Open Sans", sans-serif', fontSize: 19,
          lineHeight: '26.45px', color: '#222',
        }}
      >
        {captionLines.map((l, i) => (
          <CaptionLine key={i} line={l} wide={i === 0} />
        ))}
      </div>
    </div>
  );
}
